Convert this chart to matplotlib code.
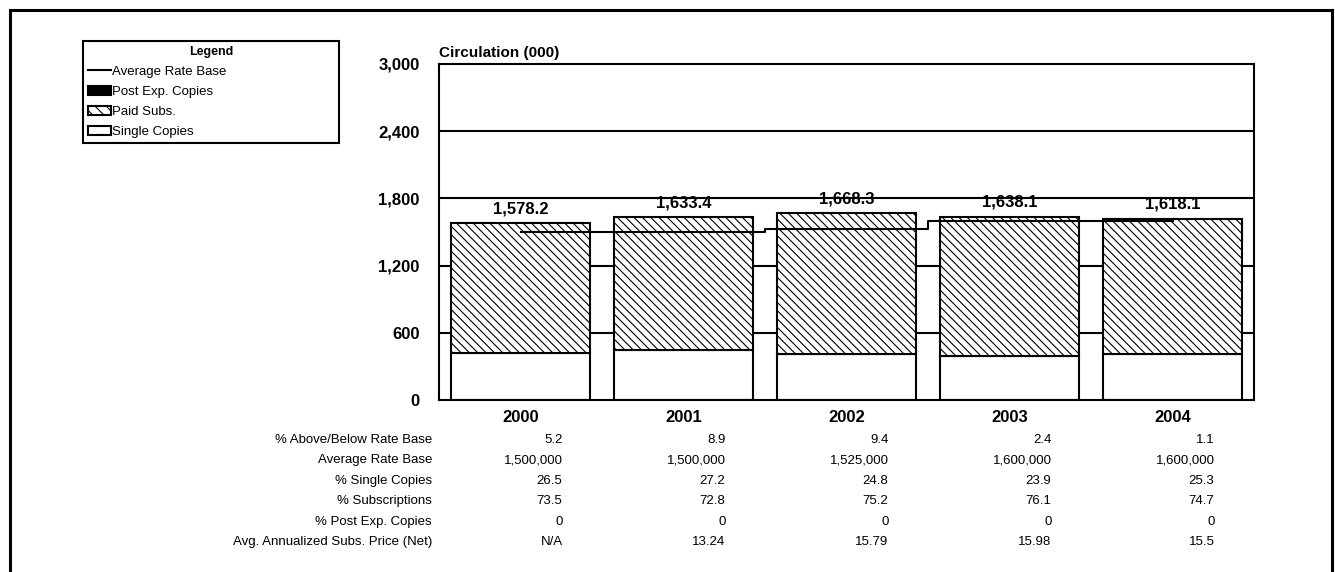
import matplotlib
matplotlib.use('Agg')
import matplotlib.pyplot as plt
from matplotlib.lines import Line2D
from matplotlib.patches import Patch
from matplotlib.transforms import blended_transform_factory
from matplotlib.ticker import FuncFormatter

plt.rcParams['font.family'] = ['Liberation Sans', 'DejaVu Sans']
plt.rcParams['hatch.linewidth'] = 0.8

# chart data
years = ['2000', '2001', '2002', '2003', '2004']
total_circ = [1578.2, 1633.4, 1668.3, 1638.1, 1618.1]
pct_single = [26.5, 27.2, 24.8, 23.9, 25.3]
post_exp = [0, 0, 0, 0, 0]
rate_base = [1500, 1500, 1525, 1600, 1600]

row_labels = ['% Above/Below Rate Base', 'Average Rate Base', '% Single Copies',
              '% Subscriptions', '% Post Exp. Copies', 'Avg. Annualized Subs. Price (Net)']
row_values = [
    ['5.2', '8.9', '9.4', '2.4', '1.1'],
    ['1,500,000', '1,500,000', '1,525,000', '1,600,000', '1,600,000'],
    ['26.5', '27.2', '24.8', '23.9', '25.3'],
    ['73.5', '72.8', '75.2', '76.1', '74.7'],
    ['0', '0', '0', '0', '0'],
    ['N/A', '13.24', '15.79', '15.98', '15.5'],
]

single = [t * p / 100 for t, p in zip(total_circ, pct_single)]
paid = [t - s - e for t, s, e in zip(total_circ, single, post_exp)]

W, H = 1335, 572
fig = plt.figure(figsize=(W / 100, H / 100), dpi=100)
ax = fig.add_axes([439 / W, 1 - 400 / H, (1254 - 439) / W, (400 - 64) / H])

x = list(range(len(years)))
bw = 0.85

# gridlines behind bars
for v in [600, 1200, 1800, 2400]:
    ax.axhline(v, color='black', lw=1.5, zorder=1)

ax.bar(x, single, width=bw, color='white', edgecolor='black', lw=1.5, zorder=2)
ax.bar(x, paid, width=bw, bottom=single, color='white', edgecolor='black',
       hatch='\\\\\\\\', lw=1.5, zorder=2)
ax.bar(x, post_exp, width=bw, bottom=[s + p for s, p in zip(single, paid)],
       color='black', edgecolor='black', lw=0, zorder=2)

ax.plot(x, rate_base, color='black', lw=1.5, drawstyle='steps-mid', zorder=3)

for xi, t in zip(x, total_circ):
    ax.annotate(f'{t:,.1f}', (xi, t), xytext=(0, 5), textcoords='offset points',
                ha='center', va='bottom', fontsize=12, fontweight='bold', zorder=4)

ax.set_xlim(-0.5, 4.5)
ax.set_ylim(0, 3000)
ax.set_yticks([0, 600, 1200, 1800, 2400, 3000])
ax.yaxis.set_major_formatter(FuncFormatter(lambda v, p: f'{v:,.0f}'))
ax.set_xticks(x)
ax.set_xticklabels(years)
ax.tick_params(axis='y', length=0, pad=14, labelsize=12)
ax.tick_params(axis='x', length=0, pad=7, labelsize=12)
for lab in ax.get_xticklabels() + ax.get_yticklabels():
    lab.set_fontweight('bold')
for sp in ax.spines.values():
    sp.set_linewidth(1.5)
    sp.set_zorder(5)

ax.set_title('Circulation (000)', loc='left', fontsize=11, fontweight='bold', pad=5)

# data table under the chart
tr = blended_transform_factory(ax.transData, fig.transFigure)
for i, (lab, vals) in enumerate(zip(row_labels, row_values)):
    yy = 1 - (440 + 20.4 * i) / H
    fig.text(432 / W, yy, lab, ha='right', va='center', fontsize=9.5)
    for xi, v in zip(x, vals):
        ax.text(xi + 0.258, yy, v, transform=tr, ha='right', va='center', fontsize=9.5)

# legend
handles = [
    Line2D([], [], color='black', lw=1.5),
    Patch(facecolor='black', edgecolor='black', lw=1.5),
    Patch(facecolor='white', edgecolor='black', hatch='\\\\\\', lw=1.5),
    Patch(facecolor='white', edgecolor='black', lw=1.5),
]
labels = ['Average Rate Base', 'Post Exp. Copies', 'Paid Subs.', 'Single Copies']
leg = fig.legend(handles, labels, title='Legend', loc='upper left',
                 bbox_to_anchor=(83 / W, 1 - 140 / H, (339 - 83) / W, (140 - 41) / H),
                 mode='expand', fontsize=9.5, title_fontproperties={'weight': 'bold', 'size': 9},
                 fancybox=False, edgecolor='black', framealpha=1, borderpad=0.35,
                 handlelength=1.8, handletextpad=0.05, labelspacing=0.6, borderaxespad=0)
leg.get_frame().set_linewidth(1.5)

# outer frame
fig.add_artist(Line2D([10 / W, 10 / W], [0, 1 - 9.5 / H], color='black', lw=2.2))
fig.add_artist(Line2D([10 / W, 1332 / W], [1 - 9.5 / H, 1 - 9.5 / H], color='black', lw=2.2))
fig.add_artist(Line2D([1332 / W, 1332 / W], [0, 1 - 9.5 / H], color='black', lw=2.2))

fig.savefig('out.png', dpi=100)
